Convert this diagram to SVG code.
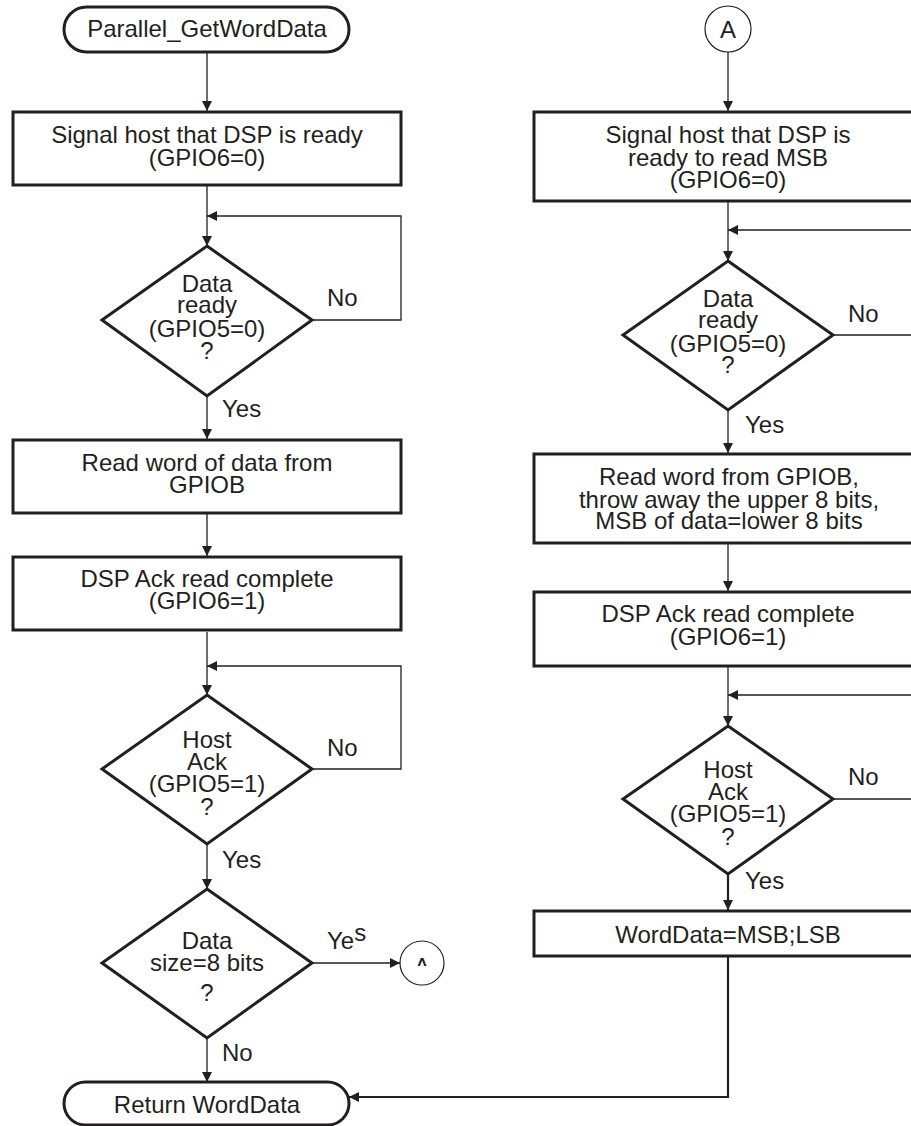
<svg xmlns="http://www.w3.org/2000/svg" width="911" height="1126" viewBox="0 0 911 1126">
<style>
.t{font-family:"Liberation Sans",Arial,sans-serif;font-size:24px;fill:#231f20;text-anchor:middle}
.l{font-family:"Liberation Sans",Arial,sans-serif;font-size:24px;fill:#231f20}
.box{fill:#fff;stroke:#231f20;stroke-width:3}
.circ{fill:#fff;stroke:#231f20;stroke-width:1.2}
.c{fill:none;stroke:#231f20;stroke-width:1.3}
.c2{fill:none;stroke:#231f20;stroke-width:2.2}
</style>
<defs>
<marker id="arr" viewBox="0 0 10 10" refX="10" refY="5" markerWidth="10" markerHeight="10" markerUnits="userSpaceOnUse" orient="auto">
<path d="M0,0 L10,5 L0,10 z" fill="#231f20"/>
</marker>
<clipPath id="clipA"><rect x="400" y="940" width="46" height="26"/></clipPath>
</defs>
<rect width="911" height="1126" fill="#fff"/>
<g id="connectors">
<path class="c" d="M207,52 V111" marker-end="url(#arr)"/>
<path class="c" d="M207,186 V246" marker-end="url(#arr)"/>
<path class="c" d="M312,320 H401 V216 H207" marker-end="url(#arr)"/>
<path class="c" d="M207,396 V439" marker-end="url(#arr)"/>
<path class="c" d="M207,514 V556" marker-end="url(#arr)"/>
<path class="c" d="M207,632 V695" marker-end="url(#arr)"/>
<path class="c" d="M312,769 H401 V666 H207" marker-end="url(#arr)"/>
<path class="c" d="M207,844 V889" marker-end="url(#arr)"/>
<path class="c" d="M312,963 H400" marker-end="url(#arr)"/>
<path class="c" d="M207,1038 V1082" marker-end="url(#arr)"/>
<path class="c" d="M728,52 V111" marker-end="url(#arr)"/>
<path class="c" d="M728,202 V261" marker-end="url(#arr)"/>
<path class="c" d="M833,335 H915 M915,230 H728" marker-end="url(#arr)"/>
<path class="c" d="M728,410 V453" marker-end="url(#arr)"/>
<path class="c" d="M728,544 V591" marker-end="url(#arr)"/>
<path class="c" d="M728,667 V726" marker-end="url(#arr)"/>
<path class="c" d="M833,799 H915 M915,695 H728" marker-end="url(#arr)"/>
<path class="c2" d="M728,874 V910" marker-end="url(#arr)"/>
<path class="c2" d="M728,957 V1097 H349" marker-end="url(#arr)"/>
<text class="l" x="327" y="306">No</text>
<text class="l" x="222" y="417">Yes</text>
<text class="l" x="327" y="756">No</text>
<text class="l" x="222" y="868">Yes</text>
<text class="l" x="327" y="949">Ye<tspan dy="-8">s</tspan></text>
<text class="l" x="222" y="1061">No</text>
<text class="l" x="848" y="322">No</text>
<text class="l" x="745" y="433">Yes</text>
<text class="l" x="848" y="785">No</text>
<text class="l" x="745" y="889">Yes</text>
</g>
<g id="start">
<rect class="box" x="64" y="7" width="285" height="45" rx="22.5"/>
<text class="t" x="207" y="37">Parallel_GetWordData</text>
</g>
<g id="signal1">
<rect class="box" x="13" y="112" width="388" height="73"/>
<text class="t" x="207" y="143">Signal host that DSP is ready</text>
<text class="t" x="207" y="166">(GPIO6=0)</text>
</g>
<g id="dataready1">
<path class="box" d="M207,246 L312,320 L207,396 L102,320 z"/>
<text class="t" x="207" y="292">Data</text>
<text class="t" x="207" y="313">ready</text>
<text class="t" x="207" y="337">(GPIO5=0)</text>
<text class="t" x="207" y="359">?</text>
</g>
<g id="readword1">
<rect class="box" x="13" y="440" width="388" height="73"/>
<text class="t" x="207" y="471">Read word of data from</text>
<text class="t" x="207" y="493">GPIOB</text>
</g>
<g id="ack1">
<rect class="box" x="13" y="557" width="388" height="73"/>
<text class="t" x="207" y="587">DSP Ack read complete</text>
<text class="t" x="207" y="609">(GPIO6=1)</text>
</g>
<g id="hostack1">
<path class="box" d="M207,695 L312,769 L207,844 L102,769 z"/>
<text class="t" x="207" y="748">Host</text>
<text class="t" x="207" y="770">Ack</text>
<text class="t" x="207" y="792">(GPIO5=1)</text>
<text class="t" x="207" y="815">?</text>
</g>
<g id="datasize">
<path class="box" d="M207,889 L312,963 L207,1038 L102,963 z"/>
<text class="t" x="207" y="949">Data</text>
<text class="t" x="207" y="971">size=8 bits</text>
<text class="t" x="207" y="1001">?</text>
</g>
<g id="connA1">
<circle class="circ" cx="422" cy="963" r="22"/>
<text class="t" x="422" y="975" clip-path="url(#clipA)">A</text>
</g>
<g id="return">
<rect class="box" x="64" y="1082" width="285" height="43" rx="21.5"/>
<text class="t" x="207" y="1113">Return WordData</text>
</g>
<g id="connA2">
<circle class="circ" cx="728" cy="29" r="23"/>
<text class="t" x="728" y="38">A</text>
</g>
<g id="signal2">
<rect class="box" x="534" y="112" width="390" height="89"/>
<text class="t" x="728" y="143">Signal host that DSP is</text>
<text class="t" x="728" y="166">ready to read MSB</text>
<text class="t" x="728" y="188">(GPIO6=0)</text>
</g>
<g id="dataready2">
<path class="box" d="M728,261 L833,335 L728,410 L623,335 z"/>
<text class="t" x="728" y="307">Data</text>
<text class="t" x="728" y="328">ready</text>
<text class="t" x="728" y="352">(GPIO5=0)</text>
<text class="t" x="728" y="373">?</text>
</g>
<g id="readword2">
<rect class="box" x="534" y="454" width="390" height="89"/>
<text class="t" x="729" y="485">Read word from GPIOB,</text>
<text class="t" x="729" y="508">throw away the upper 8 bits,</text>
<text class="t" x="729" y="529">MSB of data=lower 8 bits</text>
</g>
<g id="ack2">
<rect class="box" x="534" y="592" width="390" height="74"/>
<text class="t" x="728" y="622">DSP Ack read complete</text>
<text class="t" x="728" y="645">(GPIO6=1)</text>
</g>
<g id="hostack2">
<path class="box" d="M728,726 L833,799 L728,874 L623,799 z"/>
<text class="t" x="728" y="778">Host</text>
<text class="t" x="728" y="800">Ack</text>
<text class="t" x="728" y="822">(GPIO5=1)</text>
<text class="t" x="728" y="845">?</text>
</g>
<g id="worddata">
<rect class="box" x="534" y="911" width="390" height="45"/>
<text class="t" x="728" y="943">WordData=MSB;LSB</text>
</g>
</svg>
